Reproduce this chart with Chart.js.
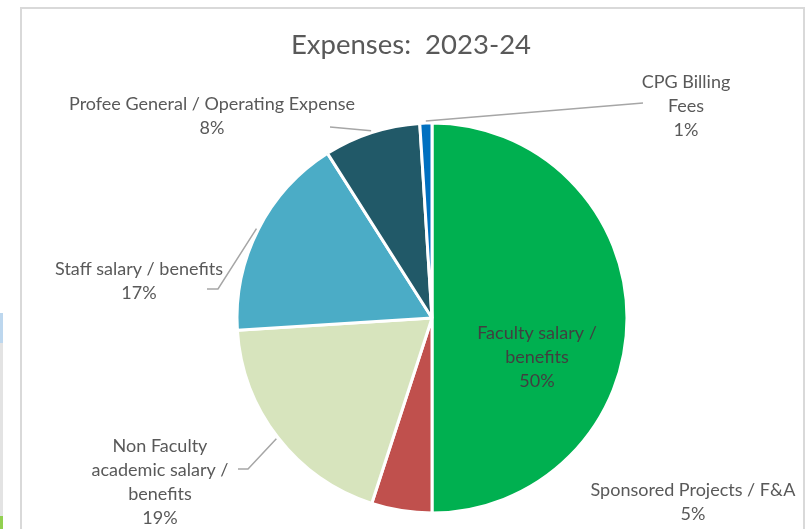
<!DOCTYPE html>
<html>
<head>
<meta charset="utf-8">
<script src="https://cdn.jsdelivr.net/npm/chart.js@4.4.1/dist/chart.umd.min.js"></script>
<style>
  html, body { margin: 0; padding: 0; background: #fff; }
  #wrap { position: relative; width: 810px; height: 529px; overflow: hidden; }
  #frame { position: absolute; left: 20px; top: 7px; width: 785px; height: 540px; border: 2px solid #D9D9D9; box-sizing: border-box; }
  .side { position: absolute; left: 0; width: 3px; }
  canvas { position: absolute; left: 0; top: 0; }
</style>
</head>
<body>
<div id="wrap">
  <div class="side" style="top:313px;height:216px;background:#E3E3E3"></div>
  <div class="side" style="top:313px;height:30px;background:#BDD7EE"></div>
  <div class="side" style="top:516px;height:13px;background:#92D050"></div>
  <div id="frame"></div>
  <canvas id="expensesChart" width="810" height="529"></canvas>
</div>
<script>
// data
const chartTitle = 'Expenses:  2023-24';
const categories = [
  'Faculty salary / benefits',
  'Sponsored Projects / F&A',
  'Non Faculty academic salary / benefits',
  'Staff salary / benefits',
  'Profee General / Operating Expense',
  'CPG Billing Fees'
];
const values = [50, 5, 19, 17, 8, 1];
const sliceColors = ['#00B050', '#C0504D', '#D7E4BD', '#4BACC6', '#215968', '#0070C0'];

// how each label is wrapped, as in the source
const labelLines = [
  ['Faculty salary /', 'benefits'],
  ['Sponsored Projects / F&A'],
  ['Non Faculty', 'academic salary /', 'benefits'],
  ['Staff salary / benefits'],
  ['Profee General / Operating Expense'],
  ['CPG Billing', 'Fees']
];

// label placement (layout only): text centre of first line, and leader elbow/end
const labelLayout = [
  { x: 537, y: 333, color: '#404040', leader: null },
  { x: 693, y: 490, color: '#595959', leader: null },
  { x: 160, y: 446, color: '#595959', leader: [[248, 469], [238, 469]] },
  { x: 139, y: 269, color: '#595959', leader: [[218, 289], [207, 289]] },
  { x: 212, y: 104, color: '#595959', leader: [[330, 127]] },
  { x: 686, y: 82, color: '#595959', leader: [[643, 103]] }
];

const FONT = 'Lato, "Open Sans", sans-serif';
const LINE_H = 24;

const total = values.reduce((a, b) => a + b, 0);

const labelPlugin = {
  id: 'pieLabels',
  afterDatasetsDraw(chart) {
    const ctx = chart.ctx;
    const arcs = chart.getDatasetMeta(0).data;
    ctx.save();

    // title
    ctx.fillStyle = '#595959';
    ctx.font = '27.5px ' + FONT;
    ctx.textAlign = 'center';
    ctx.textBaseline = 'middle';
    ctx.fillText(chartTitle, 411, 45);

    arcs.forEach((arc, i) => {
      const lay = labelLayout[i];
      const { x, y, startAngle, endAngle, outerRadius } = arc.getProps(['x', 'y', 'startAngle', 'endAngle', 'outerRadius'], true);
      if (lay.leader) {
        const mid = (startAngle + endAngle) / 2;
        const r = outerRadius + 2;
        ctx.strokeStyle = '#A6A6A6';
        ctx.lineWidth = 1.5;
        ctx.beginPath();
        ctx.moveTo(x + Math.cos(mid) * r, y + Math.sin(mid) * r);
        lay.leader.forEach(p => ctx.lineTo(p[0], p[1]));
        ctx.stroke();
      }
      const lines = labelLines[i].concat([Math.round(values[i] / total * 100) + '%']);
      ctx.fillStyle = lay.color;
      ctx.font = '18px ' + FONT;
      lines.forEach((t, k) => ctx.fillText(t, lay.x, lay.y + k * LINE_H));
    });
    ctx.restore();
  }
};

new Chart(document.getElementById('expensesChart'), {
  type: 'pie',
  data: {
    labels: categories,
    datasets: [{
      data: values,
      backgroundColor: sliceColors,
      borderColor: '#FFFFFF',
      borderWidth: 3
    }]
  },
  options: {
    responsive: false,
    animation: false,
    layout: { padding: { left: 235.5, right: 181.5, top: 121.5, bottom: 14.5 } },
    plugins: {
      legend: { display: false },
      title: { display: false },
      tooltip: { enabled: false }
    }
  },
  plugins: [labelPlugin]
});
</script>
</body>
</html>
